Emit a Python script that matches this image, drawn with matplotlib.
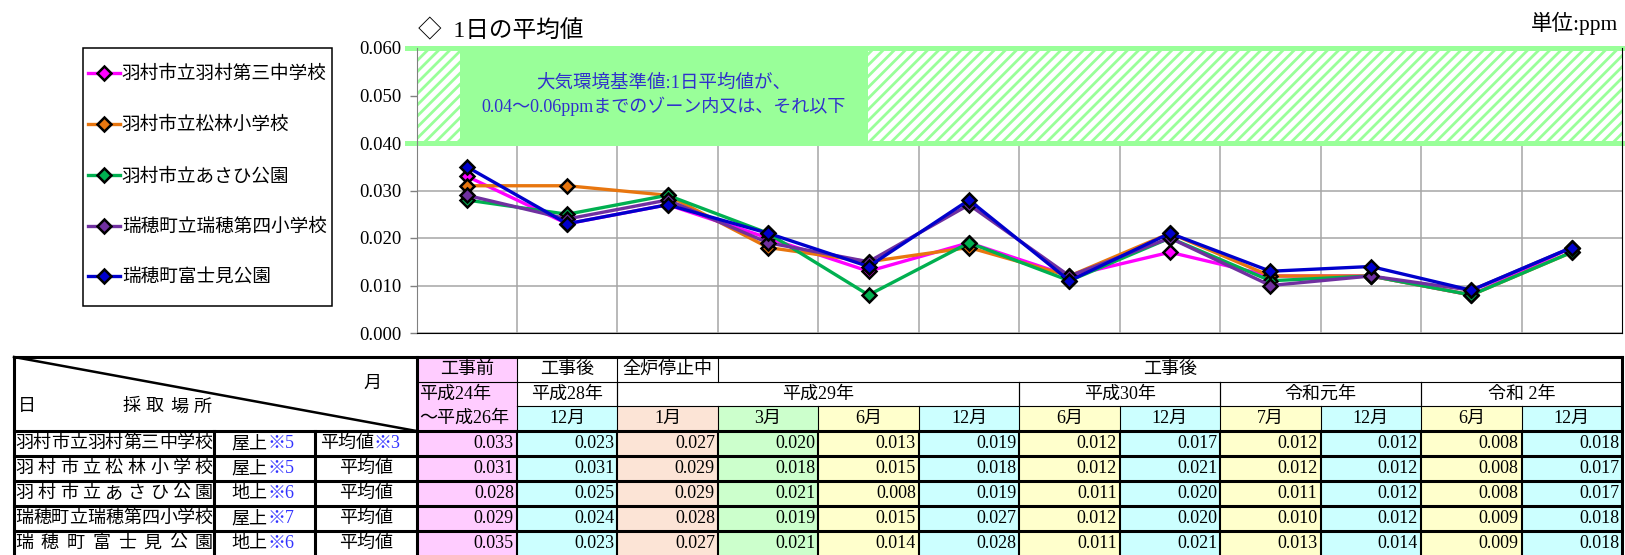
#二酸化窒素 1日の平均値（グラフ＋表）
import matplotlib
matplotlib.use('Agg')
import matplotlib.pyplot as plt
import matplotlib.transforms as mtransforms
from matplotlib.patches import Rectangle

plt.rcParams['font.family'] = ['Liberation Serif', 'Noto Sans CJK JP']
plt.rcParams['hatch.linewidth'] = 2.0

# 採取場所
sites = ['羽村市立羽村第三中学校', '羽村市立松林小学校', '羽村市立あさひ公園',
         '瑞穂町立瑞穂第四小学校', '瑞穂町富士見公園']
places = ['屋上', '屋上', '地上', '屋上', '地上']
place_notes = ['※5', '※5', '※6', '※7', '※6']
kinds = ['平均値', '平均値', '平均値', '平均値', '平均値']
kind_notes = ['※3', '', '', '', '']

# 表の見出し（名前, 開始列, 列数）
stages = [('工事前', 0, 1), ('工事後', 1, 1), ('全炉停止中', 2, 1), ('工事後', 3, 9)]
years = [('平成28年', 1, 1), ('平成29年', 2, 4), ('平成30年', 6, 2),
         ('令和元年', 8, 2), ('令和 2年', 10, 2)]
before_period = ['平成24年', '～平成26年']
months = ['', '12月', '1月', '3月', '6月', '12月', '6月', '12月', '7月', '12月', '6月', '12月']

# 測定値 (ppm)
v_hamura3 = [0.033, 0.023, 0.027, 0.020, 0.013, 0.019, 0.012, 0.017, 0.012, 0.012, 0.008, 0.018]
v_shorin = [0.031, 0.031, 0.029, 0.018, 0.015, 0.018, 0.012, 0.021, 0.012, 0.012, 0.008, 0.017]
v_asahi = [0.028, 0.025, 0.029, 0.021, 0.008, 0.019, 0.011, 0.020, 0.011, 0.012, 0.008, 0.017]
v_mizuho4 = [0.029, 0.024, 0.028, 0.019, 0.015, 0.027, 0.012, 0.020, 0.010, 0.012, 0.009, 0.018]
v_fujimi = [0.035, 0.023, 0.027, 0.021, 0.014, 0.028, 0.011, 0.021, 0.013, 0.014, 0.009, 0.018]
values = [v_hamura3, v_shorin, v_asahi, v_mizuho4, v_fujimi]

colors = ['#FF00FF', '#E8760F', '#00B050', '#7030A0', '#0000CC']
col_bg = ['#FFCCFF', '#CCFFFF', '#FCE4D6', '#CCFFCC', '#FFFFCC', '#CCFFFF',
          '#FFFFCC', '#CCFFFF', '#FFFFCC', '#CCFFFF', '#FFFFCC', '#CCFFFF']
zone_green = '#99FF99'
note_blue = '#3333FF'

W, H = 1625, 555
fig = plt.figure(figsize=(W / 100, H / 100), dpi=100)

# ---- グラフ ----
x0, x1, y_top, y_bot = 416.5, 1622, 48, 333
ax = fig.add_axes([x0 / W, 1 - y_bot / H, (x1 - x0) / W, (y_bot - y_top) / H])
n = len(months)
xs = list(range(n))
ax.set_xlim(-0.5, n - 0.5)
ax.set_ylim(0, 0.06)
ax.set_yticks([0, 0.01, 0.02, 0.03, 0.04, 0.05, 0.06])
ax.yaxis.set_major_formatter(matplotlib.ticker.FormatStrFormatter('%.3f'))
ax.set_xticks([i + 0.5 for i in range(n - 1)])
ax.tick_params(axis='x', length=0, labelbottom=False)
ax.tick_params(axis='y', length=5, width=1, color='#808080', labelsize=13.5, pad=6)
ax.set_axisbelow(True)
ax.grid(True, color='#A6A6A6', lw=1.1)
ax.spines['top'].set_visible(False)
ax.spines['left'].set_color('#808080')
ax.spines['bottom'].set_color('black')
ax.spines['right'].set_color('black')

# 環境基準のゾーン
ax.axhspan(0.04, 0.06, facecolor='white', edgecolor=zone_green, hatch='///', linewidth=0, zorder=1)
trans = mtransforms.blended_transform_factory(ax.transAxes, ax.transData)
bx0, bx1 = (460 - x0) / (x1 - x0), (868 - x0) / (x1 - x0)
ax.add_patch(Rectangle((bx0, 0.04), bx1 - bx0, 0.02, transform=trans,
                       facecolor=zone_green, edgecolor='none', zorder=1.1))
for yv in (0.04, 0.06):
    ax.axhline(yv, xmin=-0.0075, xmax=1, color=zone_green, lw=3.6, clip_on=False, zorder=1.2)
ax.text((bx0 + bx1) / 2, 0.0526, '大気環境基準値:1日平均値が、', transform=trans,
        ha='center', va='center', fontsize=13.3, color='#3030CC', zorder=1.3)
ax.text((bx0 + bx1) / 2, 0.0478, '0.04～0.06ppmまでのゾーン内又は、それ以下', transform=trans,
        ha='center', va='center', fontsize=13, color='#3030CC', zorder=1.3)

for vals, c, name in zip(values, colors, sites):
    ax.plot(xs, vals, color=c, lw=2.4, marker='D', ms=7, mfc=c, mec='black', mew=1.8,
            label=name, zorder=3)

fig.text(418 / W, 1 - 31 / H, '◇  1日の平均値', fontsize=17, ha='left', va='center')
fig.text(1618 / W, 1 - 23 / H, '単位:ppm', fontsize=15.5, ha='right', va='center')

ax.legend(loc='upper left', bbox_to_anchor=(88 / W, 1 - 66 / H), bbox_transform=fig.transFigure,
          frameon=False, fontsize=13.4, handlelength=1.7, handletextpad=0.12,
          borderpad=0, borderaxespad=0, labelspacing=1.8)

# ---- 表 ----
tb = fig.add_axes([0, 0, 1, 1])
tb.set_xlim(0, W)
tb.set_ylim(H, 0)
tb.axis('off')

tb.add_patch(Rectangle((83, 48), 249, 258, facecolor='none', edgecolor='black', lw=1.1))

left_edges = [14, 214, 315]
dw = (x1 - x0) / n
e = [x0 + j * dw for j in range(n + 1)]
ry = [357, 381.7, 406.3, 431, 456, 481, 506, 531, 556]
thick, mid, thin = 2.2, 1.5, 0.8
fs = 13

# 背景色
for r in range(3):
    tb.add_patch(Rectangle((e[0], ry[r]), dw, ry[r + 1] - ry[r], facecolor=col_bg[0], lw=0))
for j in range(1, n):
    tb.add_patch(Rectangle((e[j], ry[2]), dw, ry[8] - ry[2], facecolor=col_bg[j], lw=0))
tb.add_patch(Rectangle((e[0], ry[3]), dw, ry[8] - ry[3], facecolor=col_bg[0], lw=0))

# 横線
tb.plot([14, x1], [ry[0], ry[0]], color='black', lw=thick)
tb.plot([e[0], x1], [ry[1], ry[1]], color='black', lw=thin)
tb.plot([e[1], x1], [ry[2], ry[2]], color='black', lw=thin)
for r in range(3, 8):
    tb.plot([14, x1], [ry[r], ry[r]], color='black', lw=thick)

# 縦線
for xv in (14, e[0], x1):
    tb.plot([xv, xv], [ry[0], H], color='black', lw=thick)
for xv in left_edges[1:]:
    tb.plot([xv, xv], [ry[3], H], color='black', lw=thick)
for name, j0, span in stages:
    if j0 > 0:
        tb.plot([e[j0], e[j0]], [ry[0], ry[1]], color='black', lw=thin)
for name, j0, span in years:
    tb.plot([e[j0], e[j0]], [ry[1], ry[2]], color='black', lw=thin)
    tb.plot([e[j0 + span], e[j0 + span]], [ry[1], ry[2]], color='black', lw=thin)
for j in range(1, n):
    tb.plot([e[j], e[j]], [ry[2], ry[3]], color='black', lw=thin)
    tb.plot([e[j], e[j]], [ry[3], H], color='black', lw=mid)

# 左上の斜線セル
tb.plot([14, e[0]], [ry[0], ry[3]], color='black', lw=1.8)
tb.text(372, 383, '月', fontsize=fs, ha='center', va='center')
tb.text(18, 407, '日', fontsize=fs, ha='left', va='center')


def spread(text, xa, xb, y):
    # 文字を均等割り付け
    chars = [ch for ch in text if ch != ' ']
    cw = fs * 100 / 72
    step = (xb - xa - cw) / (len(chars) - 1)
    for i, ch in enumerate(chars):
        tb.text(xa + cw / 2 + i * step, y, ch, fontsize=fs, ha='center', va='center')


spread('採取場所', 122, 212, 407)

# 見出し
for name, j0, span in stages:
    tb.text((e[j0] + e[j0 + span]) / 2, (ry[0] + ry[1]) / 2, name, fontsize=fs, ha='center', va='center')
tb.text(e[0] + 3, (ry[1] + ry[2]) / 2, before_period[0], fontsize=fs, ha='left', va='center')
tb.text(e[0] + 3, (ry[2] + ry[3]) / 2, before_period[1], fontsize=fs, ha='left', va='center')
for name, j0, span in years:
    tb.text((e[j0] + e[j0 + span]) / 2, (ry[1] + ry[2]) / 2, name, fontsize=fs, ha='center', va='center')
for j in range(1, n):
    tb.text((e[j] + e[j + 1]) / 2, (ry[2] + ry[3]) / 2, months[j], fontsize=fs, ha='center', va='center')

# データ行
for i in range(len(sites)):
    yc = (ry[3 + i] + ry[4 + i]) / 2
    spread(sites[i], 15, 213, yc)
    c1 = (left_edges[1] + left_edges[2]) / 2
    tb.text(c1 + 3, yc, places[i], fontsize=fs, ha='right', va='center')
    tb.text(c1 + 3, yc, place_notes[i], fontsize=fs, ha='left', va='center', color=note_blue)
    c2 = (left_edges[2] + e[0]) / 2
    if kind_notes[i]:
        tb.text(c2 + 8, yc, kinds[i], fontsize=fs, ha='right', va='center')
        tb.text(c2 + 8, yc, kind_notes[i], fontsize=fs, ha='left', va='center', color=note_blue)
    else:
        tb.text(c2, yc, kinds[i], fontsize=fs, ha='center', va='center')
    for j in range(n):
        tb.text(e[j + 1] - 3, yc, '%.3f' % values[i][j], fontsize=fs, ha='right', va='center')

fig.savefig('out.png', dpi=100)
